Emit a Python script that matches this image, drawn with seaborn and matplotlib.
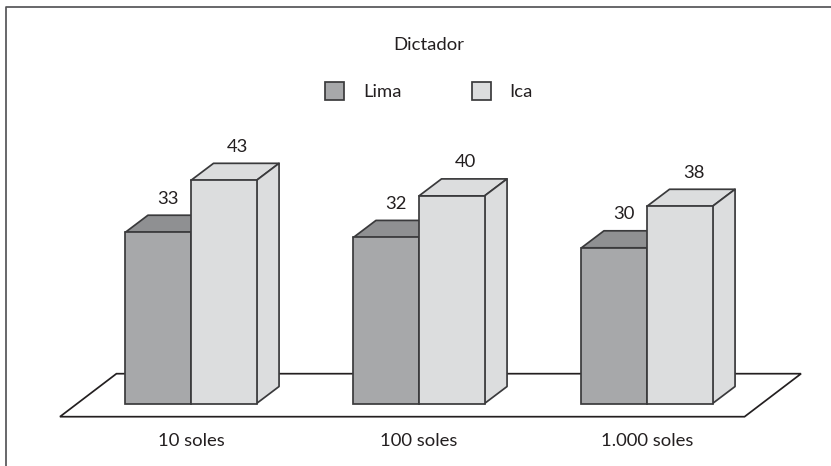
import seaborn as sns
import matplotlib.pyplot as plt
import pandas as pd
from matplotlib.lines import Line2D
from matplotlib.patches import Polygon

categories = ["10 soles", "100 soles", "1.000 soles"]
lima = [33, 32, 30]
ica = [43, 40, 38]

W, H = 831, 466
PX_X = 228.0  # pixels per category
PX_Y = 5.19  # pixels per unit
ZERO_Y = 403.5
FLOOR_Y = 416.7
EDGE = "#3a3a3c"
FS = 13.3
LW = 1.25

sns.set_style("white")
plt.rcParams["font.family"] = ["Lato", "DejaVu Sans"]

data = pd.DataFrame({
    "Sueldo": categories * 2,
    "Ciudad": ["Lima"] * 3 + ["Ica"] * 3,
    "Valor": lima + ica,
})

fig = plt.figure(figsize=(W / 100, H / 100), dpi=100)
ax = fig.add_axes([0, 1 - FLOOR_Y / H, 1, FLOOR_Y / H])
sns.barplot(data=data, x="Sueldo", y="Valor", hue="Ciudad", ax=ax, width=0.575, gap=0,
            palette={"Lima": "#a7a8aa", "Ica": "#dcddde"}, saturation=1,
            edgecolor=EDGE, linewidth=LW)
ax.set_xlim(-191 / PX_X, (W - 191) / PX_X)
ax.set_ylim(-(FLOOR_Y - ZERO_Y) / PX_Y, ZERO_Y / PX_Y)

# depth of the fake 3d boxes
dx = 22.5 / PX_X
dy = 17 / PX_Y

tops = {0: "#8f9092", 1: "#dcddde"}
sides = {0: "#8f9092", 1: "#dcddde"}
label_shift = {0: 10 / PX_X, 1: 14 / PX_X}
z = 3
for g in range(len(categories)):
    for s, cont in enumerate(ax.containers):
        bar = cont[g]
        x0, x1, h = bar.get_x(), bar.get_x() + bar.get_width(), bar.get_height()
        ax.add_patch(Polygon([(x0, h), (x0 + dx, h + dy), (x1 + dx, h + dy), (x1, h)],
                             fc=tops[s], ec=EDGE, lw=LW, zorder=z, joinstyle="round"))
        ax.add_patch(Polygon([(x1, 0), (x1 + dx, dy), (x1 + dx, h + dy), (x1, h)],
                             fc=sides[s], ec=EDGE, lw=LW, zorder=z, joinstyle="round"))
        bar.set_zorder(z + 1)
        ax.text((x0 + x1) / 2 + label_shift[s], h + dy + 16.5 / PX_Y, f"{h:.0f}", ha="center", va="center",
                fontsize=FS, color="#231f20", zorder=z + 2)
        z += 3

# floor
left = ax.containers[0][0].get_x()
right = ax.containers[1][-1].get_x() + ax.containers[1][-1].get_width()
fx0 = left - 65.5 / PX_X
fx1 = right + 32 / PX_X
fy0 = ax.get_ylim()[0]
fdx, fdy = 56.5 / PX_X, 43 / PX_Y
ax.add_patch(Polygon([(fx0, fy0), (fx0 + fdx, fy0 + fdy), (fx1 + fdx, fy0 + fdy), (fx1, fy0)],
                     fc="white", ec="#231f20", lw=LW, zorder=1, clip_on=False))

sns.despine(ax=ax, left=True, bottom=True)
ax.set_xlabel("")
ax.set_ylabel("")
ax.set_yticks([])
ax.tick_params(axis="x", length=0, pad=11.7, labelsize=FS, labelcolor="#231f20")
ax.patch.set_alpha(0)

sns.move_legend(ax, "upper center", bbox_to_anchor=(429 / W, 1 - 28 / FLOOR_Y), ncol=2,
                title="Dictador", frameon=False, fontsize=FS, title_fontsize=FS,
                handlelength=1.03, handleheight=1.05, handletextpad=1.0, columnspacing=3.8,
                borderpad=0, labelspacing=1.58)
leg = ax.get_legend()
leg.get_title().set_color("#231f20")
for t in leg.get_texts():
    t.set_color("#231f20")

# open frame of the figure, left and top only
fig.add_artist(Line2D([6 / W, 6 / W, 1], [0, 1 - 6.5 / H, 1 - 6.5 / H], color="#555557", lw=LW))

fig.savefig("out.png", dpi=100)
